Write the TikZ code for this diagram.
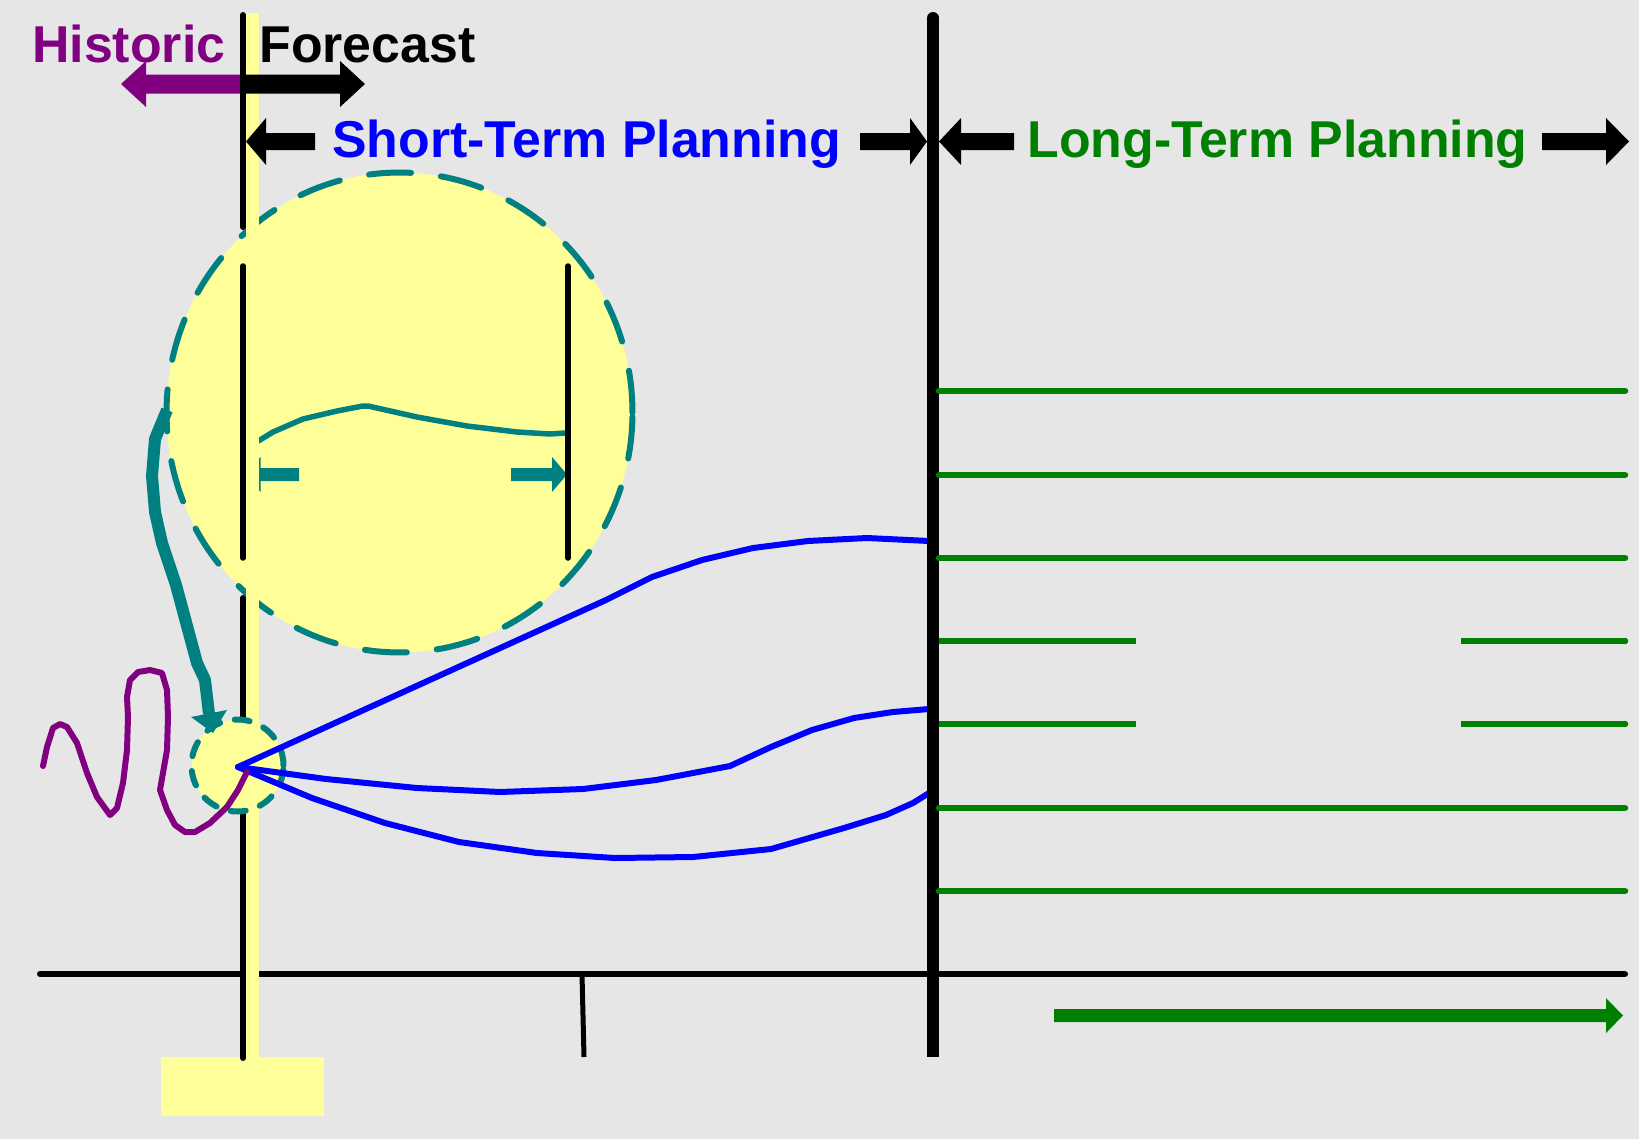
\documentclass[tikz,border=0pt]{standalone}
\usepackage{fontspec}
\setmainfont{Liberation Sans}
\definecolor{bgc}{RGB}{230,230,230}
\definecolor{yel}{RGB}{255,255,153}
\definecolor{tealc}{RGB}{0,128,128}
\definecolor{grn}{RGB}{0,128,0}
\definecolor{pur}{RGB}{128,0,128}
\definecolor{blu}{RGB}{0,0,255}
\begin{document}
\begin{tikzpicture}[x=0.02cm,y=-0.02cm,
  lbl/.style={font=\fontsize{29.5}{34}\selectfont\bfseries, inner sep=0pt, anchor=base west},
  thinblack/.style={black, line width=0.12cm, line cap=round},
  innerblack/.style={black, line width=0.11cm, line cap=round},
  bluecurve/.style={blu, line width=0.12cm, line join=round, line cap=round},
  grnline/.style={grn, line width=0.13cm, line cap=round},
  grnbroken/.style={grn, line width=0.13cm, line cap=butt},
  bigdash/.style={tealc, line width=0.12cm, line cap=round, dash pattern=on 0.84cm off 0.6cm},
  smalldash/.style={tealc, line width=0.12cm, line cap=round, dash pattern=on 0.3cm off 0.3cm},
]
% background
\fill[bgc] (0,0) rectangle (1639,1139);
\useasboundingbox (0,0) rectangle (1639,1139);

% axis and tick
\draw[black, line width=0.12cm, line cap=round] (40,974) -- (1625,974);
\draw[black, line width=0.1cm] (582,974) -- (584,1057);

% big magnifier circle
\fill[yel] (399.5,412.5) ellipse [x radius=4.66cm, y radius=4.8cm];
\draw[bigdash] (399.5,412.5) ellipse [x radius=4.66cm, y radius=4.8cm];

% inner content of magnifier
\draw[tealc, line width=0.11cm, line join=round] (246,447) -- (260,440) -- (273,432) -- (303,419) -- (337,411) -- (363,406) -- (368,406) -- (417,417) -- (467,426) -- (517,432) -- (550,434) -- (565,433);
\fill[tealc] (299,468) -- (260.5,468) -- (260.5,457) -- (245,474.5) -- (260.5,492) -- (260.5,481) -- (299,481) -- cycle;
\fill[tealc] (511,468) -- (552,468) -- (552,457) -- (567,474.5) -- (552,492) -- (552,481) -- (511,481) -- cycle;

% yellow stripe and foot rectangle
\fill[yel] (246,13) rectangle (259,1057);
\fill[yel] (161,1057) rectangle (324,1116);

% thin black vertical line (segments) and inner lines
\draw[thinblack] (243,15) -- (243,227);
\draw[thinblack] (243,598) -- (243,718);
\draw[thinblack] (243,812) -- (243,1058);
\draw[innerblack] (243,266) -- (243,558);
\draw[innerblack] (568,266) -- (568,558);

% small circle
\fill[yel] (237.5,765.5) circle [radius=0.92cm];
\draw[smalldash] (237.5,765.5) circle [radius=0.92cm];

% blue curves
\draw[bluecurve] (238,767) -- (606,600) -- (652,577) -- (702,560) -- (753,548) -- (808,541) -- (867,538) -- (929,541);
\draw[bluecurve] (238,767) -- (326,779) -- (417,788) -- (500,792) -- (583,789) -- (656,780) -- (730,766) -- (771,747) -- (812,730) -- (854,718) -- (893,712) -- (929,709);
\draw[bluecurve] (238,767) -- (312,798) -- (385,823) -- (459,842) -- (537,853) -- (615,858) -- (693,857) -- (771,849) -- (844,828) -- (886,815) -- (913,803) -- (929,793);

% purple squiggle
\draw[pur, line width=0.12cm, line join=round, line cap=round] (43,766) -- (47,747) -- (53,728) -- (60,724) -- (67,727) -- (77,743) -- (87,773) -- (97,797) -- (110,815) -- (117,808) -- (123,783) -- (127,750) -- (128,717) -- (127,697) -- (130,680) -- (138,672) -- (150,670) -- (162,673) -- (167,690) -- (168,717) -- (167,750) -- (160,790) -- (167,810) -- (175,825) -- (185,832) -- (195,832) -- (210,823) -- (227,807) -- (238,790) -- (247,772);

% big teal curved arrow
\draw[tealc, line width=0.24cm, line join=round] (167,410) -- (155,439) -- (152,476) -- (155,512) -- (162,543) -- (176,585) -- (197,663) -- (205,680) -- (209,714);
\fill[tealc] (191,717) -- (227,710) -- (213,733) -- cycle;

% big black vertical line
\draw[black, line width=0.24cm, line cap=butt] (933,18) -- (933,1057);
\fill[black] (933,18) circle [radius=0.12cm];

% green lines
\foreach \yy in {391,475,558,808,891} {
  \draw[grnline] (939,\yy) -- (1625,\yy);
}
\foreach \yy in {641,724} {
  \draw[grnbroken] (939,\yy) -- (1136,\yy);
  \draw[grnbroken] (1461,\yy) -- (1625,\yy);
  \fill[grn] (1625,\yy) circle [radius=0.065cm];
}

% historic / forecast arrows
\fill[pur] (240,74.5) -- (146,74.5) -- (146,61) -- (121,84) -- (146,107) -- (146,93.5) -- (240,93.5) -- cycle;
\fill[black] (240,74.5) -- (340,74.5) -- (340,61) -- (365,84) -- (340,107) -- (340,93.5) -- (240,93.5) -- cycle;

% short-term arrows
\fill[black] (315,133) -- (266,133) -- (266,118) -- (246,141.5) -- (266,165) -- (266,150) -- (315,150) -- cycle;
\fill[black] (860,133) -- (910,133) -- (910,118) -- (927,141.5) -- (910,165) -- (910,150) -- (860,150) -- cycle;
% long-term arrows
\fill[black] (1014,133) -- (961,133) -- (961,118) -- (939,141.5) -- (961,165) -- (961,150) -- (1014,150) -- cycle;
\fill[black] (1542,133) -- (1606,133) -- (1606,118) -- (1629,141.5) -- (1606,165) -- (1606,150) -- (1542,150) -- cycle;

% bottom green arrow
\fill[grn] (1054,1009) -- (1606,1009) -- (1606,998) -- (1623,1015.5) -- (1606,1033) -- (1606,1022) -- (1054,1022) -- cycle;

% labels
\node[lbl, text=pur] (historic) at (32,62) {Historic};
\node[lbl, text=black] (forecast) at (259,62) {Forecast};
\node[lbl, text=blu] (short) at (332,157) {Short-Term Planning};
\node[lbl, text=grn] (long) at (1027,157) {Long-Term Planning};
\end{tikzpicture}
\end{document}
